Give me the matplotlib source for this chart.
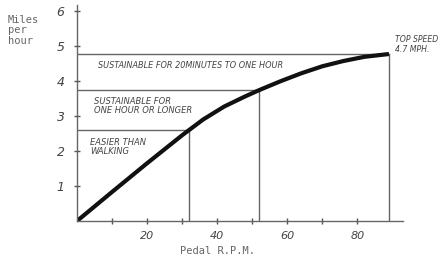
import matplotlib.pyplot as plt

# speed curve (pedal rpm -> mph)
rpm = [0, 10, 20, 30, 36, 42, 48, 52, 58, 64, 70, 76, 82, 89]
mph = [0, 0.83, 1.65, 2.45, 2.9, 3.27, 3.56, 3.74, 3.99, 4.22, 4.42, 4.57, 4.69, 4.77]

# effort zones: rpm limit, mph level, label
zone_rpm = [32, 52, 89]
zone_mph = [2.6, 3.73, 4.77]
zone_labels = ["EASIER THAN\nWALKING",
               "SUSTAINABLE FOR\nONE HOUR OR LONGER",
               "SUSTAINABLE FOR 20MINUTES TO ONE HOUR"]

x_ticks = [10, 20, 30, 40, 50, 60, 70, 80]
x_labels = ["", "20", "", "40", "", "60", "", "80"]
y_ticks = [1, 2, 3, 4, 5, 6]

W, H = 443, 259
fig = plt.figure(figsize=(W / 100, H / 100), dpi=100)
ax = fig.add_axes([77 / W, 38 / H, 326 / W, 216 / H])
ax.set_xlim(0, 93)
ax.set_ylim(0, 6.17)

for s in ["top", "right"]:
    ax.spines[s].set_visible(False)
for s in ["left", "bottom"]:
    ax.spines[s].set_color("#666666")
    ax.spines[s].set_linewidth(1.0)

hand = dict(family="DejaVu Sans", style="italic", color="#444444")

ax.set_xticks(x_ticks)
ax.set_xticklabels(x_labels, fontsize=8, **hand)
ax.set_yticks(y_ticks)
ax.set_yticklabels([str(v) for v in y_ticks], fontsize=9, **hand)
ax.tick_params(direction="inout", length=4, width=1, color="#555555")
ax.tick_params(axis="y", pad=7)
ax.tick_params(axis="x", pad=5)

# zone boxes
for r, m in zip(zone_rpm, zone_mph):
    ax.plot([0, r], [m, m], color="#666666", lw=1.0)
    ax.plot([r, r], [0, m], color="#666666", lw=1.0)

ax.plot(rpm, mph, color="#111111", lw=3.0, solid_capstyle="butt",
        solid_joinstyle="round")

ax.text(3.8, 2.37, zone_labels[0], fontsize=6.0, va="top", linespacing=1.0, **hand)
ax.text(4.8, 3.53, zone_labels[1], fontsize=6.0, va="top", linespacing=1.0, **hand)
ax.text(6, 4.58, zone_labels[2], fontsize=5.9, va="top", **hand)

fig.text(395 / W, 1 - 35 / H, "TOP SPEED\n4.7 MPH.", fontsize=5.6, va="top",
         linespacing=1.1, **hand)

mono = dict(family="DejaVu Sans Mono", color="#666666")
fig.text(8 / W, 1 - 15 / H, "Miles\nper\nhour", fontsize=7.5, va="top",
         linespacing=1.05, **mono)
fig.text(217 / W, 1 - 251 / H, "Pedal R.P.M.", fontsize=7.5, ha="center",
         va="center", **mono)

fig.savefig("out.png", dpi=100, facecolor="white")
